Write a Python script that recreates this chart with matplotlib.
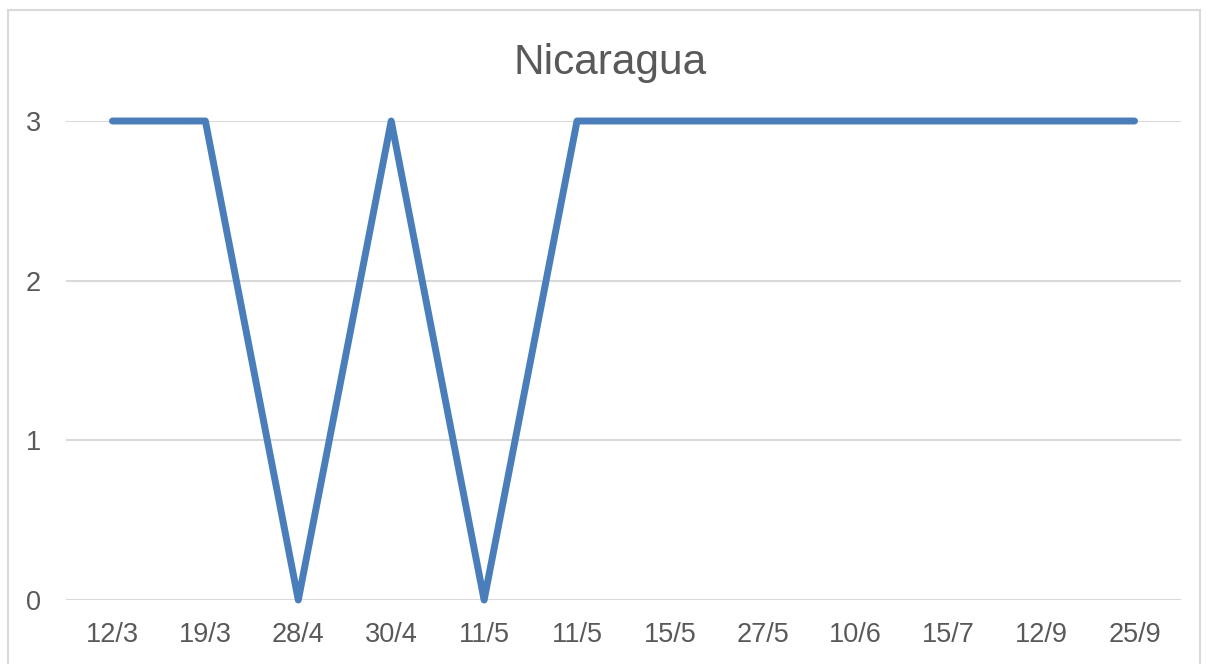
import matplotlib.pyplot as plt
from matplotlib.patches import Rectangle

fechas = ['12/3', '19/3', '28/4', '30/4', '11/5', '11/5', '15/5', '27/5', '10/6', '15/7', '12/9', '25/9']
valores = [3, 3, 0, 3, 0, 3, 3, 3, 3, 3, 3, 3]

plt.rcParams['font.family'] = ['Liberation Sans', 'DejaVu Sans']
gris = '#595959'

fig = plt.figure(figsize=(12.06, 6.64), dpi=100)
# marco del grafico
fig.patches.append(Rectangle((8 / 1206, -0.1), 1192 / 1206, 1.1 - 10 / 664,
                             transform=fig.transFigure, fill=False,
                             edgecolor='#d9d9d9', linewidth=1.5))

ax = fig.add_axes([66 / 1206, 64 / 664, 1115 / 1206, 479 / 664])
x = list(range(len(fechas)))
ax.plot(x, valores, color='#4a7ebb', linewidth=5, solid_capstyle='round',
        solid_joinstyle='round', zorder=3, clip_on=False)

ax.set_xlim(-0.5, len(fechas) - 0.5)
ax.set_ylim(0, 3)
ax.set_yticks([0, 1, 2, 3])
ax.set_xticks(x)
ax.set_xticklabels(fechas)
ax.grid(axis='y', color='#d9d9d9', linewidth=1.5)
ax.set_axisbelow(True)
for s in ax.spines.values():
    s.set_visible(False)
ax.tick_params(axis='both', length=0, labelsize=19.5, colors=gris)
ax.tick_params(axis='y', pad=18)
ax.tick_params(axis='x', pad=16)

fig.text(610 / 1206, 1 - 63 / 664, 'Nicaragua', ha='center', va='center',
         fontsize=30.5, color=gris)

fig.savefig('out.png', dpi=100)
